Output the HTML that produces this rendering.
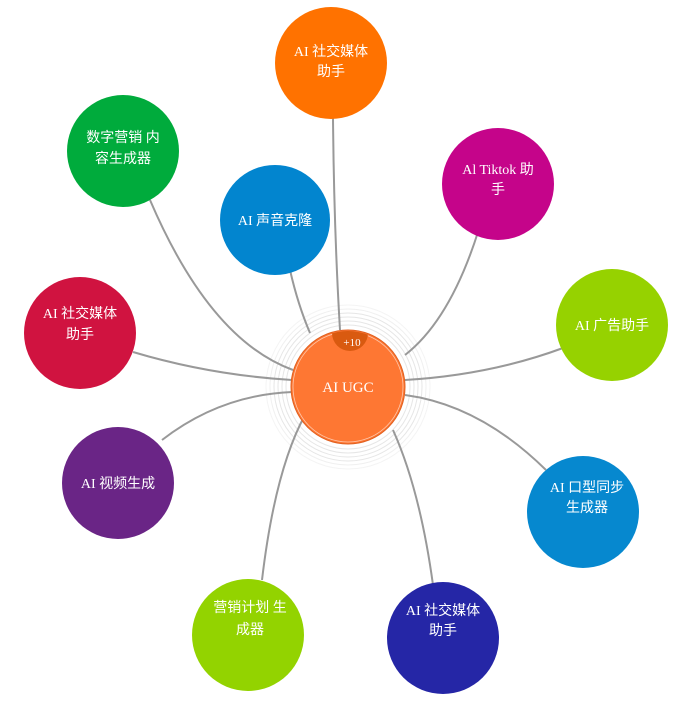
<!DOCTYPE html>
<html><head><meta charset="utf-8"><style>
html,body{margin:0;padding:0;background:#fff;}
svg text{font-family:"Liberation Serif","Noto Sans CJK SC",serif;fill:#fff;text-anchor:middle;}
</style></head><body>
<svg width="679" height="702" viewBox="0 0 679 702" xmlns="http://www.w3.org/2000/svg">
<g fill="none" stroke="#e6e6e6" stroke-width="1">
<circle cx="348" cy="387" r="62"/><circle cx="348" cy="387" r="66"/><circle cx="348" cy="387" r="70"/><circle cx="348" cy="387" r="74"/><circle cx="348" cy="387" r="78" stroke="#f0f0f0"/><circle cx="348" cy="387" r="82" stroke="#f4f4f4"/>
</g>
<g fill="none" stroke="#999" stroke-width="2">
<path d="M333 118 Q334 230 340 330"/>
<path d="M150 200 Q210 340 293 370"/>
<path d="M290 270 Q298 305 310 333"/>
<path d="M478 232 Q450 320 405 355"/>
<path d="M133 352 Q210 375 292 380"/>
<path d="M563 348 Q490 375 405 380"/>
<path d="M162 440 Q220 395 292 392"/>
<path d="M546 470 Q480 405 405 395"/>
<path d="M262 580 Q275 470 305 415"/>
<path d="M433 585 Q420 490 393 430"/>
</g>
<circle cx="348" cy="387" r="57" fill="#fe7733" stroke="#e06020" stroke-width="1"/>
<circle cx="348" cy="387" r="55" fill="none" stroke="#fff" stroke-width="0.8" opacity="0.6"/>
<clipPath id="c"><circle cx="348" cy="387" r="56"/></clipPath>
<circle cx="350" cy="333" r="18" fill="#d95a10" clip-path="url(#c)"/>
<text x="352" y="346" font-size="11" fill="#fff">+10</text>
<text x="348" y="392" font-size="15">AI UGC</text>

<circle cx="331" cy="63" r="56" fill="#ff7200"/>
<text x="331" y="56" font-size="14">AI 社交媒体</text><text x="331" y="76" font-size="14">助手</text>
<circle cx="123" cy="151" r="56" fill="#00ab3c"/>
<text x="123" y="142" font-size="14">数字营销 内</text><text x="123" y="163" font-size="14">容生成器</text>
<circle cx="275" cy="220" r="55" fill="#0285cf"/>
<text x="275" y="225" font-size="14">AI 声音克隆</text>
<circle cx="498" cy="184" r="56" fill="#c5048a"/>
<text x="498" y="174" font-size="14">Al Tiktok 助</text><text x="498" y="194" font-size="14">手</text>
<circle cx="80" cy="333" r="56" fill="#d01340"/>
<text x="80" y="318" font-size="14">AI 社交媒体</text><text x="80" y="339" font-size="14">助手</text>
<circle cx="612" cy="325" r="56" fill="#96d200"/>
<text x="612" y="330" font-size="14">AI 广告助手</text>
<circle cx="118" cy="483" r="56" fill="#6a2586"/>
<text x="118" y="488" font-size="14">AI 视频生成</text>
<circle cx="583" cy="512" r="56" fill="#0688cf"/>
<text x="587" y="492" font-size="14">AI 口型同步</text><text x="587" y="512" font-size="14">生成器</text>
<circle cx="248" cy="635" r="56" fill="#93d300"/>
<text x="250" y="612" font-size="14">营销计划 生</text><text x="250" y="634" font-size="14">成器</text>
<circle cx="443" cy="638" r="56" fill="#2526a6"/>
<text x="443" y="615" font-size="14">AI 社交媒体</text><text x="443" y="635" font-size="14">助手</text>
</svg>
</body></html>
